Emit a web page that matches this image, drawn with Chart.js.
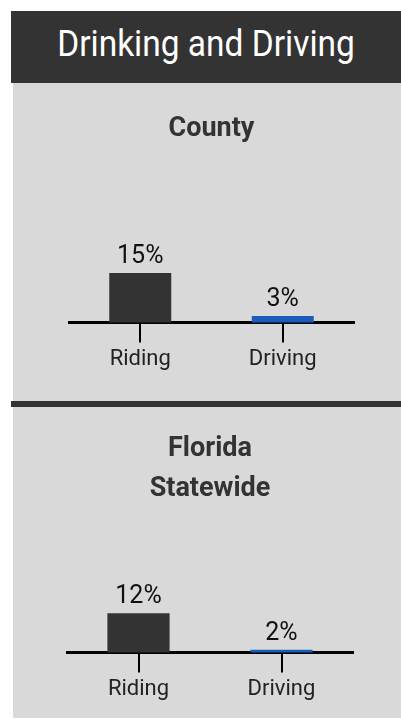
<!DOCTYPE html>
<html lang="en">
<head>
<meta charset="UTF-8">
<title>Drinking and Driving</title>
<style>
    body {
        margin: 0;
        background: #fff;
        font-family: Roboto, sans-serif;
    }
    #header {
        position: absolute;
        left: 11px;
        top: 11px;
        width: 390px;
        height: 72px;
        background: #333;
        color: #fff;
        text-align: center;
        line-height: 66px;
        font-size: 36px;
    }
    #header span {
        display: inline-block;
        transform: scaleX(0.93);
    }
    .panel {
        position: absolute;
        left: 13px;
        width: 388px;
        background: #d9d9d9;
    }
    #panel1 { top: 83px; height: 318px; }
    #panel2 { top: 407px; height: 311px; }
    #divider {
        position: absolute;
        left: 11px;
        top: 401px;
        width: 390px;
        height: 6px;
        background: #333;
    }
</style>
</head>
<body>
    <div id="header"><span>Drinking and Driving</span></div>
    <div class="panel" id="panel1"><canvas id="countyChart"></canvas></div>
    <div id="divider"></div>
    <div class="panel" id="panel2"><canvas id="stateChart"></canvas></div>

    <script src="https://cdn.jsdelivr.net/npm/chart.js"></script>
    <script>
        const categories = ['Riding', 'Driving'];
        const countyValues = [15, 3];
        const stateValues = [12, 2];
        const barColors = ['#333333', '#1b5cba'];

        // draws the "15%" style labels above each bar
        const valueLabels = {
            id: 'valueLabels',
            afterDatasetsDraw(chart) {
                const ctx = chart.ctx;
                const meta = chart.getDatasetMeta(0);
                ctx.save();
                ctx.font = '25px Roboto';
                ctx.fillStyle = '#111';
                ctx.textAlign = 'center';
                ctx.textBaseline = 'alphabetic';
                meta.data.forEach((bar, i) => {
                    ctx.fillText(chart.data.datasets[0].data[i] + '%', bar.x, bar.y - 10);
                });
                ctx.restore();
            }
        };

        function makeChart(id, title, values, h, pad) {
            const canvas = document.getElementById(id);
            canvas.style.width = '388px';
            canvas.style.height = h + 'px';
            return new Chart(canvas, {
                type: 'bar',
                data: {
                    labels: categories,
                    datasets: [{
                        data: values,
                        backgroundColor: barColors,
                        categoryPercentage: 1,
                        barPercentage: 0.435
                    }]
                },
                options: {
                    responsive: false,
                    animation: false,
                    layout: { padding: pad.layout },
                    plugins: {
                        legend: { display: false },
                        tooltip: { enabled: false },
                        title: {
                            display: true,
                            text: title,
                            color: '#333',
                            font: { family: 'Roboto', size: 27, weight: 'bold', lineHeight: 1.48 },
                            padding: pad.title
                        }
                    },
                    scales: {
                        x: {
                            border: { display: true, color: '#000', width: 3 },
                            grid: {
                                offset: false,
                                drawOnChartArea: false,
                                color: '#000',
                                lineWidth: 2,
                                tickLength: 20
                            },
                            ticks: {
                                color: '#222',
                                padding: 4,
                                font: { family: 'Roboto', size: 22 }
                            }
                        },
                        y: {
                            display: false,
                            min: 1.2,
                            max: 20
                        }
                    }
                },
                plugins: [valueLabels]
            });
        }

        makeChart('countyChart', 'County', countyValues, 318, {
            layout: { left: 56, right: 47, top: 0, bottom: 24 },
            title: { top: 26, bottom: 106 }
        });
        makeChart('stateChart', ['Florida', 'Statewide'], stateValues, 311, {
            layout: { left: 54, right: 48, top: 0, bottom: 11 },
            title: { top: 22, bottom: 75 }
        });
    </script>
</body>
</html>
